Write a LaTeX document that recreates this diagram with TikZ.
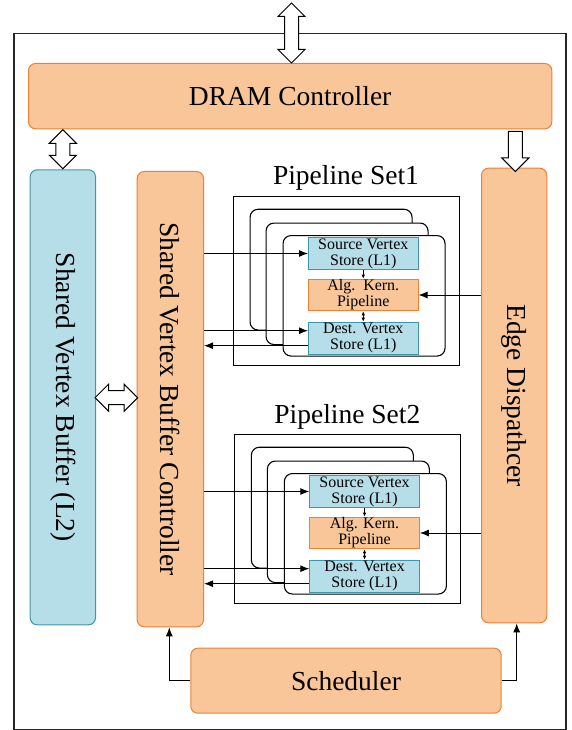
\documentclass[tikz,border=0pt]{standalone}
\usepackage{fontspec}
\setmainfont{Liberation Serif}
\usetikzlibrary{arrows.meta,shapes.arrows,calc}
\definecolor{ofill}{RGB}{248,198,153}
\definecolor{oline}{RGB}{238,128,52}
\definecolor{bfill}{RGB}{182,222,233}
\definecolor{bline}{RGB}{62,150,172}
\newcommand\bigfont{\fontsize{27.5}{30}\selectfont}
\tikzset{
  big/.style={draw, line width=1pt, rounded corners=7pt, inner sep=0pt, anchor=north west, font=\bigfont},
  obig/.style={big, fill=ofill, draw=oline},
  bbig/.style={big, fill=bfill, draw=bline},
  vtext/.style={rotate=-90, font=\bigfont, text=black},
  small/.style={draw, line width=1pt, inner sep=0pt, anchor=north west, minimum width=109.5pt, minimum height=32pt, align=center, font=\fontsize{16}{16}\selectfont},
  osmall/.style={small, fill=ofill, draw=oline},
  bsmall/.style={small, fill=bfill, draw=bline},
  card/.style={draw, fill=white, line width=1.1pt, rounded corners=8pt, inner sep=0pt, anchor=north west},
  setbox/.style={draw, line width=1.1pt, inner sep=0pt, anchor=north west},
  arr/.style={-{Latex[length=9pt,width=7pt]}, line width=1pt},
  sarr/.style={-{Latex[length=4pt,width=3.5pt]}, line width=0.8pt},
  dsarr/.style={{Latex[length=4pt,width=3.5pt]}-{Latex[length=4pt,width=3.5pt]}, line width=0.8pt},
  hollow/.style={draw, fill=white, line width=1pt, inner sep=6.5pt},
}
\newcommand\pipeset[3]{%
  \begin{scope}[shift={(#2)}]
    \node[setbox, minimum width=226pt, minimum height=169.6pt] (#1box) at (233,195.7) {};
    \node[font=\bigfont, anchor=base] (#1title) at (346,185) {Pipeline Set#1};
    \node[card, minimum width=162pt, minimum height=120.8pt] (#1c3) at (249.5,208.7) {};
    \node[card, minimum width=162pt, minimum height=121.5pt] (#1c2) at (265.5,222.5) {};
    \node[card, minimum width=162pt, minimum height=120.5pt] (#1c1) at (282.5,235) {};
    \node[bsmall] (#1src) at (308,237) {Source Vertex\\Store (L1)};
    \node[osmall, minimum height=31.6pt] (#1alg) at (308,278.7) {#3};
    \node[bsmall] (#1dst) at (308,321.7) {Dest. Vertex\\Store (L1)};
  \end{scope}
  \coordinate (#1din) at ($(#1dst.west)+(0,-7.5)$);
  \coordinate (#1dout) at ($(#1dst.west)+(0,7.5)$);
  \draw[arr] (svbc.east |- #1src.west) -- (#1src.west);
  \draw[arr] (svbc.east |- #1din) -- (#1din);
  \draw[arr] (#1dout) -- (svbc.east |- #1dout);
  \draw[arr] (ed.west |- #1alg.east) -- (#1alg.east);
  \draw[sarr] (#1src.south) -- (#1alg.north);
  \draw[dsarr] (#1alg.south) -- (#1dst.north);
}
\begin{document}
\begin{tikzpicture}[x=1pt,y=-1pt]
\useasboundingbox (0,0) rectangle (571,730);
\node[draw=black!85, line width=1.2pt, inner sep=0pt, anchor=north west, minimum width=552pt, minimum height=696.3pt] (frame) at (13.3,32.7) {};
\node[obig, minimum width=523.3pt, minimum height=65.3pt] (dram) at (28,63) {DRAM Controller};
\node[bbig, minimum width=65.3pt, minimum height=455pt] (svb) at (29.7,169.3) {};
\node[vtext] at (svb.center) {Shared Vertex Buffer (L2)};
\node[obig, minimum width=66.3pt, minimum height=455.3pt] (svbc) at (136.7,171) {};
\node[vtext] at (svbc.center) {Shared Vertex Buffer Controller};
\node[obig, minimum width=65.3pt, minimum height=454.6pt] (ed) at (481,167.7) {};
\node[vtext] at (ed.center) {Edge Dispathcer};
\node[obig, minimum width=310.4pt, minimum height=65pt] (sched) at (190.3,647.7) {Scheduler};
% hollow arrows
\node[hollow, double arrow, double arrow head extend=6.5pt, minimum height=60pt, shape border rotate=90] (extio) at (291.5,33) {};
\node[hollow, double arrow, double arrow head extend=6.5pt, minimum height=39pt, shape border rotate=90] (dramsvb) at ($(svb.north)!.5!(svb.north |- dram.south)$) {};
\node[hollow, single arrow, single arrow head extend=6.5pt, minimum height=40pt, shape border rotate=270] (drammed) at (515.3,148) {};
\node[hollow, double arrow, double arrow head extend=6.5pt, minimum height=42.6pt] (svbsvbc) at ($(svb.east |- 0,397.7)!.5!(svbc.west |- 0,397.7)$) {};
% pipeline sets
\pipeset{1}{0,0}{Alg.\ \ Kern.\\Pipeline}
\pipeset{2}{1.3,238}{Alg. Kern.\\Pipeline}
% scheduler connectors
\draw[arr] (sched.west) -| (169.3,0 |- svbc.south);
\draw[arr] (sched.east) -| (516.7,0 |- ed.south);
\end{tikzpicture}
\end{document}
